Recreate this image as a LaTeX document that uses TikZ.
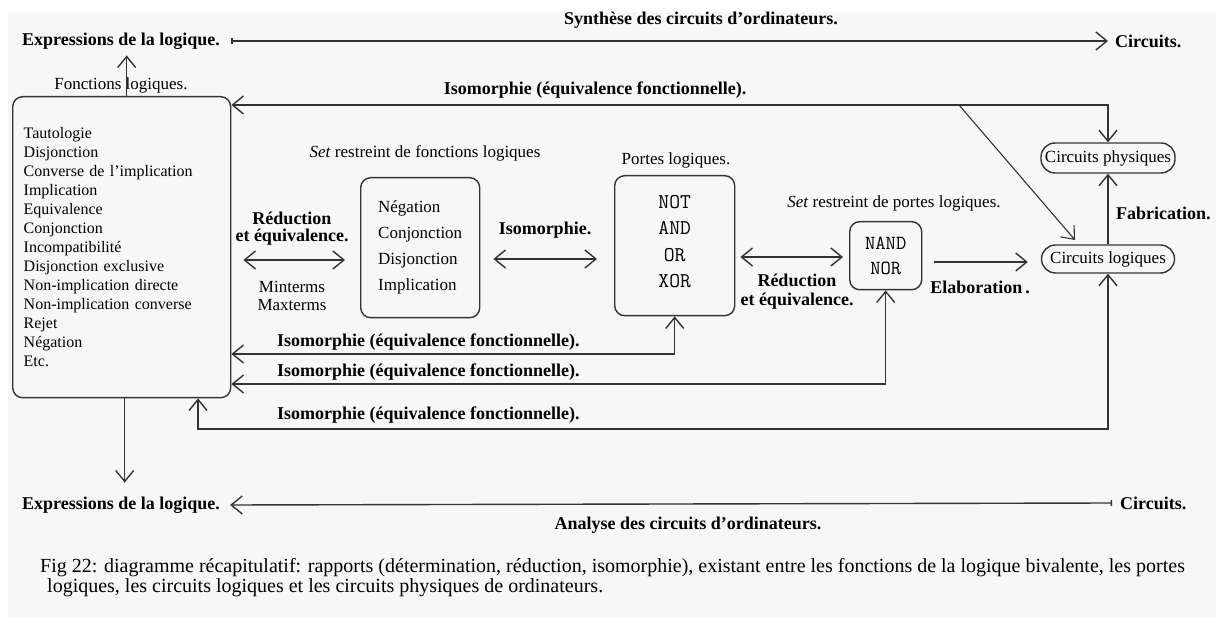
\documentclass[tikz,border=0pt]{standalone}
\usepackage{fontspec}
\setmainfont{Liberation Serif}
\usetikzlibrary{arrows.meta,calc}
\tikzset{vtip/.tip={Straight Barb[length=11pt,width=18pt]}}
\begin{document}
\begin{tikzpicture}[x=1pt,y=-1pt,
  ln/.style={draw=black!80,line width=1.4pt},
  txt/.style={inner sep=0pt,font=\fontsize{17}{19}\selectfont},
  btxt/.style={inner sep=0pt,font=\bfseries\fontsize{18}{18}\selectfont},
  box/.style={draw=black!80,line width=1.4pt,rounded corners=10pt,inner sep=0pt},
  mbox/.style={box,font=\ttfamily\fontsize{21}{26.5}\selectfont,align=center},
  pill/.style={draw=black!80,line width=1.4pt,rounded corners=14pt,inner sep=0pt,font=\fontsize{17}{19}\selectfont},
  capt/.style={inner sep=0pt,font=\fontsize{20}{20}\selectfont}]
\useasboundingbox (0,0) rectangle (1216,617);
\fill[white] (0,0) rectangle (1216,617);
\fill[black!3] (8,12) rectangle (1216,617);

% top and bottom titles
\node[btxt,anchor=west] (exprT) at (22,41) {Expressions de la logique.};
\node[btxt] (synth) at (701,20) {Synthèse des circuits d'ordinateurs.};
\node[btxt,anchor=west] (circT) at (1115,41) {Circuits.};
\node[btxt,anchor=west] (exprB) at (22,505) {Expressions de la logique.};
\node[btxt,anchor=west] (circB) at (1120,503) {Circuits.};
\node[btxt] (analyse) at (688,525) {Analyse des circuits d'ordinateurs.};

% left box
\node[box,anchor=north west,minimum width=218,minimum height=301,text width=196,align=left,font=\fontsize{16}{19}\selectfont] (B1) at (12,96)
 {Tautologie\\Disjonction\\Converse de l'implication\\Implication\\Equivalence\\Conjonction\\Incompatibilité\\Disjonction exclusive\\Non-implication directe\\Non-implication converse\\Rejet\\Négation\\Etc.};
\node[txt] (fl) at (121,85) {Fonctions logiques.};

% box 2
\node[box,anchor=north west,minimum width=119,minimum height=140,align=left,font=\fontsize{17}{26}\selectfont] (B2) at (360,177)
 {Négation\\Conjonction\\Disjonction\\Implication};
\node[txt] (setF) at (425,153) {\textit{Set} restreint de fonctions logiques};
\node[btxt,align=center,font=\bfseries\fontsize{18}{17}\selectfont] (red1) at (292,229) {Réduction\\et équivalence.};
\node[txt,align=center,font=\fontsize{17}{18}\selectfont] (mm) at (292,296) {Minterms\\Maxterms};
\node[btxt] (iso1) at (545,230) {Isomorphie.};

% box 3
\node[mbox,anchor=north west,minimum width=120,minimum height=140,text depth=8pt] (B3) at (614,175) {NOT\\AND\\OR\\XOR};
\node[txt] (portes) at (676,160) {Portes logiques.};

% NAND box
\node[mbox,anchor=north west,minimum width=72,minimum height=68,font=\ttfamily\fontsize{20}{25}\selectfont] (B4) at (849,221) {NAND\\NOR};
\node[txt] (setP) at (894,203) {\textit{Set} restreint de portes logiques.};
\node[btxt,align=center,font=\bfseries\fontsize{18}{19}\selectfont] (red2) at (797,292) {Réduction\\et équivalence.};
\node[btxt] (elab) at (980,287) {Elaboration\,.};

% circuits
\node[pill,minimum width=134,minimum height=30] (CP) at (1108,158) {Circuits physiques};
\node[pill,minimum width=133,minimum height=28] (CL) at (1108,259) {Circuits logiques};
\node[btxt,anchor=west] (fab) at (1116,213) {Fabrication.};

% isomorphie labels
\node[btxt] (iso0) at (595,90) {Isomorphie (équivalence fonctionnelle).};
\node[btxt,anchor=west] (isoA) at (277,342) {Isomorphie (équivalence fonctionnelle).};
\node[btxt,anchor=west] (isoB) at (277,372) {Isomorphie (équivalence fonctionnelle).};
\node[btxt,anchor=west] (isoC) at (277,415) {Isomorphie (équivalence fonctionnelle).};

% coordinates
\coordinate (tr) at (1108,105);
\coordinate (dg) at (959,105);
\coordinate (dgEnd) at (1075,240);
\coordinate (r1) at (0,260);
\coordinate (r2) at (0,259);
\coordinate (r3) at (0,257);
\coordinate (r4) at (0,262);
\coordinate (yA) at (0,354);
\coordinate (yB) at (0,384);
\coordinate (cC) at (198,429);

% connectors
\draw[ln,{Bar[width=6pt]}-vtip] ([xshift=11pt]exprT.east) -- ([xshift=-7pt]circT.west);
\draw[ln,vtip-{Bar[width=6pt]}] ([xshift=10pt]exprB.east) -- ([xshift=-8pt]circB.west);
\draw[ln,-vtip] ([xshift=5pt]B1.north) -- ([xshift=5pt,yshift=-6pt]B1.north |- exprT.south);
\draw[ln,-vtip] ([xshift=3pt]B1.south) -- ([xshift=3pt,yshift=14pt]B1.south |- exprB.north);
\draw[ln,vtip-vtip] (tr -| B1.east) -- (tr) -- (CP.north);
\draw[ln,line width=1.1pt,-vtip] (dg) -- (dgEnd);
\draw[ln,-vtip] (CL.north) -- (CP.south);
\draw[ln,vtip-vtip,shorten <=12pt,shorten >=15pt] (r1 -| B1.east) -- (r1 -| B2.west);
\draw[ln,vtip-vtip,shorten <=13pt,shorten >=17pt] (r2 -| B2.east) -- (r2 -| B3.west);
\draw[ln,vtip-vtip,shorten <=5pt,shorten >=6pt] (r3 -| B3.east) -- (r3 -| B4.west);
\draw[ln,-vtip,shorten <=12pt,shorten >=13pt] (r4 -| B4.east) -- (r4 -| CL.west);
\draw[ln,vtip-vtip] (B3.south) |- (yA -| B1.east);
\draw[ln,vtip-vtip] (B4.south) |- (yB -| B1.east);
\draw[ln,vtip-vtip] (CL.south) |- (cC) -- (cC |- B1.south);

% caption
\node[capt,anchor=west] (cap1) at (40,568) {Fig 22: diagramme récapitulatif: rapports (détermination, réduction, isomorphie), existant entre les fonctions de la logique bivalente, les portes};
\node[capt,anchor=west] (cap2) at (47,588) {logiques, les circuits logiques et les circuits physiques de ordinateurs.};
\end{tikzpicture}
\end{document}
